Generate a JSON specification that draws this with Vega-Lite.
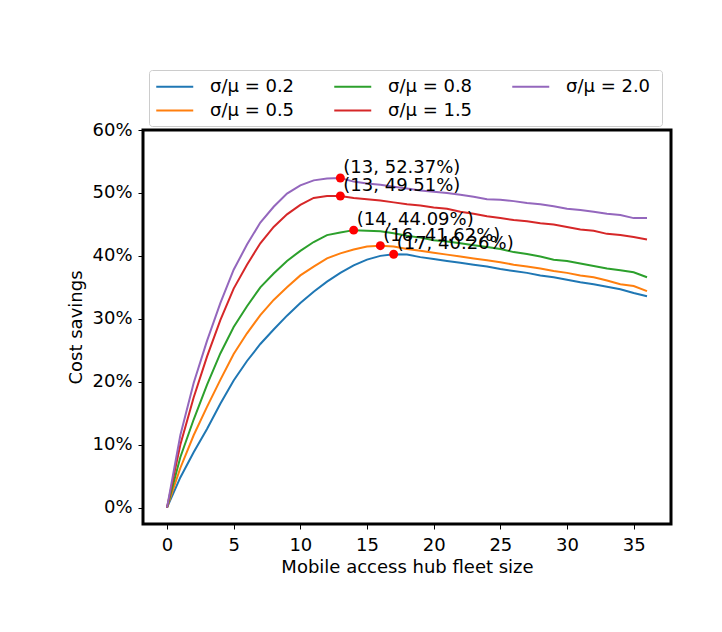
{
  "$schema": "https://vega.github.io/schema/vega-lite/v6.json",
  "autosize": "none",
  "width": 528,
  "height": 394,
  "padding": {"left": 143, "top": 130, "right": 51, "bottom": 108},
  "background": "white",
  "config": {
    "font": "DejaVu Sans",
    "view": {"stroke": "black", "strokeWidth": 3},
    "axis": {
      "labelFont": "DejaVu Sans", "titleFont": "DejaVu Sans",
      "labelFontSize": 18, "titleFontSize": 18, "titleFontWeight": "normal",
      "labelColor": "black", "titleColor": "black",
      "tickColor": "black", "tickSize": 5, "tickWidth": 1,
      "domain": false, "grid": false
    },
    "legend": {
      "labelFont": "DejaVu Sans", "labelFontSize": 18, "labelColor": "black"
    }
  },
  "datasets": {
    "curves": [
      {"x":0,"v":0,"k":"0.2"},{"x":1,"v":0.048,"k":"0.2"},{"x":2,"v":0.088,"k":"0.2"},{"x":3,"v":0.125,"k":"0.2"},{"x":4,"v":0.165,"k":"0.2"},{"x":5,"v":0.202,"k":"0.2"},{"x":6,"v":0.233,"k":"0.2"},{"x":7,"v":0.260,"k":"0.2"},{"x":8,"v":0.283,"k":"0.2"},{"x":9,"v":0.305,"k":"0.2"},{"x":10,"v":0.325,"k":"0.2"},{"x":11,"v":0.343,"k":"0.2"},{"x":12,"v":0.359,"k":"0.2"},{"x":13,"v":0.373,"k":"0.2"},{"x":14,"v":0.385,"k":"0.2"},{"x":15,"v":0.394,"k":"0.2"},{"x":16,"v":0.400,"k":"0.2"},{"x":17,"v":0.4026,"k":"0.2"},{"x":18,"v":0.402,"k":"0.2"},{"x":19,"v":0.398,"k":"0.2"},{"x":20,"v":0.395,"k":"0.2"},{"x":21,"v":0.392,"k":"0.2"},{"x":22,"v":0.389,"k":"0.2"},{"x":23,"v":0.386,"k":"0.2"},{"x":24,"v":0.383,"k":"0.2"},{"x":25,"v":0.379,"k":"0.2"},{"x":26,"v":0.376,"k":"0.2"},{"x":27,"v":0.373,"k":"0.2"},{"x":28,"v":0.369,"k":"0.2"},{"x":29,"v":0.366,"k":"0.2"},{"x":30,"v":0.362,"k":"0.2"},{"x":31,"v":0.358,"k":"0.2"},{"x":32,"v":0.355,"k":"0.2"},{"x":33,"v":0.351,"k":"0.2"},{"x":34,"v":0.347,"k":"0.2"},{"x":35,"v":0.341,"k":"0.2"},{"x":36,"v":0.336,"k":"0.2"},
      {"x":0,"v":0,"k":"0.5"},{"x":1,"v":0.063,"k":"0.5"},{"x":2,"v":0.115,"k":"0.5"},{"x":3,"v":0.160,"k":"0.5"},{"x":4,"v":0.203,"k":"0.5"},{"x":5,"v":0.244,"k":"0.5"},{"x":6,"v":0.277,"k":"0.5"},{"x":7,"v":0.306,"k":"0.5"},{"x":8,"v":0.330,"k":"0.5"},{"x":9,"v":0.350,"k":"0.5"},{"x":10,"v":0.369,"k":"0.5"},{"x":11,"v":0.383,"k":"0.5"},{"x":12,"v":0.396,"k":"0.5"},{"x":13,"v":0.404,"k":"0.5"},{"x":14,"v":0.410,"k":"0.5"},{"x":15,"v":0.415,"k":"0.5"},{"x":16,"v":0.4162,"k":"0.5"},{"x":17,"v":0.415,"k":"0.5"},{"x":18,"v":0.411,"k":"0.5"},{"x":19,"v":0.408,"k":"0.5"},{"x":20,"v":0.405,"k":"0.5"},{"x":21,"v":0.402,"k":"0.5"},{"x":22,"v":0.399,"k":"0.5"},{"x":23,"v":0.396,"k":"0.5"},{"x":24,"v":0.393,"k":"0.5"},{"x":25,"v":0.390,"k":"0.5"},{"x":26,"v":0.386,"k":"0.5"},{"x":27,"v":0.383,"k":"0.5"},{"x":28,"v":0.380,"k":"0.5"},{"x":29,"v":0.376,"k":"0.5"},{"x":30,"v":0.373,"k":"0.5"},{"x":31,"v":0.369,"k":"0.5"},{"x":32,"v":0.366,"k":"0.5"},{"x":33,"v":0.361,"k":"0.5"},{"x":34,"v":0.355,"k":"0.5"},{"x":35,"v":0.352,"k":"0.5"},{"x":36,"v":0.344,"k":"0.5"},
      {"x":0,"v":0,"k":"0.8"},{"x":1,"v":0.080,"k":"0.8"},{"x":2,"v":0.140,"k":"0.8"},{"x":3,"v":0.195,"k":"0.8"},{"x":4,"v":0.245,"k":"0.8"},{"x":5,"v":0.287,"k":"0.8"},{"x":6,"v":0.320,"k":"0.8"},{"x":7,"v":0.350,"k":"0.8"},{"x":8,"v":0.372,"k":"0.8"},{"x":9,"v":0.392,"k":"0.8"},{"x":10,"v":0.408,"k":"0.8"},{"x":11,"v":0.422,"k":"0.8"},{"x":12,"v":0.433,"k":"0.8"},{"x":13,"v":0.437,"k":"0.8"},{"x":14,"v":0.4409,"k":"0.8"},{"x":15,"v":0.440,"k":"0.8"},{"x":16,"v":0.439,"k":"0.8"},{"x":17,"v":0.436,"k":"0.8"},{"x":18,"v":0.432,"k":"0.8"},{"x":19,"v":0.429,"k":"0.8"},{"x":20,"v":0.425,"k":"0.8"},{"x":21,"v":0.423,"k":"0.8"},{"x":22,"v":0.420,"k":"0.8"},{"x":23,"v":0.417,"k":"0.8"},{"x":24,"v":0.414,"k":"0.8"},{"x":25,"v":0.411,"k":"0.8"},{"x":26,"v":0.406,"k":"0.8"},{"x":27,"v":0.403,"k":"0.8"},{"x":28,"v":0.399,"k":"0.8"},{"x":29,"v":0.394,"k":"0.8"},{"x":30,"v":0.392,"k":"0.8"},{"x":31,"v":0.388,"k":"0.8"},{"x":32,"v":0.384,"k":"0.8"},{"x":33,"v":0.380,"k":"0.8"},{"x":34,"v":0.377,"k":"0.8"},{"x":35,"v":0.374,"k":"0.8"},{"x":36,"v":0.366,"k":"0.8"},
      {"x":0,"v":0,"k":"1.5"},{"x":1,"v":0.100,"k":"1.5"},{"x":2,"v":0.175,"k":"1.5"},{"x":3,"v":0.240,"k":"1.5"},{"x":4,"v":0.298,"k":"1.5"},{"x":5,"v":0.348,"k":"1.5"},{"x":6,"v":0.386,"k":"1.5"},{"x":7,"v":0.420,"k":"1.5"},{"x":8,"v":0.446,"k":"1.5"},{"x":9,"v":0.466,"k":"1.5"},{"x":10,"v":0.481,"k":"1.5"},{"x":11,"v":0.492,"k":"1.5"},{"x":12,"v":0.495,"k":"1.5"},{"x":13,"v":0.4951,"k":"1.5"},{"x":14,"v":0.492,"k":"1.5"},{"x":15,"v":0.490,"k":"1.5"},{"x":16,"v":0.488,"k":"1.5"},{"x":17,"v":0.485,"k":"1.5"},{"x":18,"v":0.482,"k":"1.5"},{"x":19,"v":0.480,"k":"1.5"},{"x":20,"v":0.477,"k":"1.5"},{"x":21,"v":0.475,"k":"1.5"},{"x":22,"v":0.470,"k":"1.5"},{"x":23,"v":0.467,"k":"1.5"},{"x":24,"v":0.463,"k":"1.5"},{"x":25,"v":0.460,"k":"1.5"},{"x":26,"v":0.457,"k":"1.5"},{"x":27,"v":0.455,"k":"1.5"},{"x":28,"v":0.452,"k":"1.5"},{"x":29,"v":0.450,"k":"1.5"},{"x":30,"v":0.446,"k":"1.5"},{"x":31,"v":0.442,"k":"1.5"},{"x":32,"v":0.440,"k":"1.5"},{"x":33,"v":0.435,"k":"1.5"},{"x":34,"v":0.433,"k":"1.5"},{"x":35,"v":0.430,"k":"1.5"},{"x":36,"v":0.426,"k":"1.5"},
      {"x":0,"v":0,"k":"2.0"},{"x":1,"v":0.115,"k":"2.0"},{"x":2,"v":0.198,"k":"2.0"},{"x":3,"v":0.265,"k":"2.0"},{"x":4,"v":0.325,"k":"2.0"},{"x":5,"v":0.378,"k":"2.0"},{"x":6,"v":0.418,"k":"2.0"},{"x":7,"v":0.453,"k":"2.0"},{"x":8,"v":0.478,"k":"2.0"},{"x":9,"v":0.499,"k":"2.0"},{"x":10,"v":0.512,"k":"2.0"},{"x":11,"v":0.520,"k":"2.0"},{"x":12,"v":0.523,"k":"2.0"},{"x":13,"v":0.5237,"k":"2.0"},{"x":14,"v":0.518,"k":"2.0"},{"x":15,"v":0.515,"k":"2.0"},{"x":16,"v":0.513,"k":"2.0"},{"x":17,"v":0.510,"k":"2.0"},{"x":18,"v":0.507,"k":"2.0"},{"x":19,"v":0.504,"k":"2.0"},{"x":20,"v":0.502,"k":"2.0"},{"x":21,"v":0.500,"k":"2.0"},{"x":22,"v":0.497,"k":"2.0"},{"x":23,"v":0.494,"k":"2.0"},{"x":24,"v":0.490,"k":"2.0"},{"x":25,"v":0.489,"k":"2.0"},{"x":26,"v":0.487,"k":"2.0"},{"x":27,"v":0.484,"k":"2.0"},{"x":28,"v":0.482,"k":"2.0"},{"x":29,"v":0.479,"k":"2.0"},{"x":30,"v":0.475,"k":"2.0"},{"x":31,"v":0.473,"k":"2.0"},{"x":32,"v":0.470,"k":"2.0"},{"x":33,"v":0.467,"k":"2.0"},{"x":34,"v":0.465,"k":"2.0"},{"x":35,"v":0.460,"k":"2.0"},{"x":36,"v":0.460,"k":"2.0"}
    ],
    "peaks": [
      {"x":13,"v":0.5237,"t":"(13, 52.37%)"},
      {"x":13,"v":0.4951,"t":"(13, 49.51%)"},
      {"x":14,"v":0.4409,"t":"(14, 44.09%)"},
      {"x":16,"v":0.4162,"t":"(16, 41.62%)"},
      {"x":17,"v":0.4026,"t":"(17, 40.26%)"}
    ]
  },
  "layer": [
    {
      "data": {"name": "curves"},
      "mark": {"type": "line", "strokeWidth": 2, "clip": true},
      "encoding": {
        "x": {"field": "x", "type": "quantitative",
              "scale": {"domain": [-1.8, 37.8], "nice": false, "zero": false},
              "axis": {"values": [0,5,10,15,20,25,30,35], "title": "Mobile access hub fleet size", "labelPadding": 7, "titlePadding": 4}},
        "y": {"field": "v", "type": "quantitative",
              "scale": {"domain": [-0.026, 0.6], "nice": false, "zero": false},
              "axis": {"values": [0,0.1,0.2,0.3,0.4,0.5,0.6], "format": ".0%", "title": "Cost savings", "labelPadding": 6, "titlePadding": 6}},
        "color": {"field": "k", "type": "nominal",
          "scale": {"domain": ["0.2","0.8","2.0","0.5","1.5"], "range": ["#1f77b4","#2ca02c","#9467bd","#ff7f0e","#d62728"]},
          "legend": {
            "title": null, "orient": "none", "legendX": 6, "legendY": -60,
            "columns": 3, "direction": "horizontal",
            "symbolType": "M-1,0L3,0", "symbolSize": 342, "symbolStrokeWidth": 2,
            "labelExpr": "'σ/μ  = ' + datum.label",
            "labelOffset": 34, "columnPadding": 30, "rowPadding": 4,
            "padding": 6, "strokeColor": "#cccccc", "fillColor": "white", "cornerRadius": 3,
            "labelLimit": 200
          }
        }
      }
    },
    {
      "data": {"name": "peaks"},
      "mark": {"type": "point", "filled": true, "color": "red", "opacity": 1, "size": 80},
      "encoding": {
        "x": {"field": "x", "type": "quantitative"},
        "y": {"field": "v", "type": "quantitative"}
      }
    },
    {
      "data": {"name": "peaks"},
      "mark": {"type": "text", "align": "left", "baseline": "bottom", "dx": 3, "dy": -1, "fontSize": 18, "color": "black", "font": "DejaVu Sans"},
      "encoding": {
        "x": {"field": "x", "type": "quantitative"},
        "y": {"field": "v", "type": "quantitative"},
        "text": {"field": "t"}
      }
    }
  ]
}
